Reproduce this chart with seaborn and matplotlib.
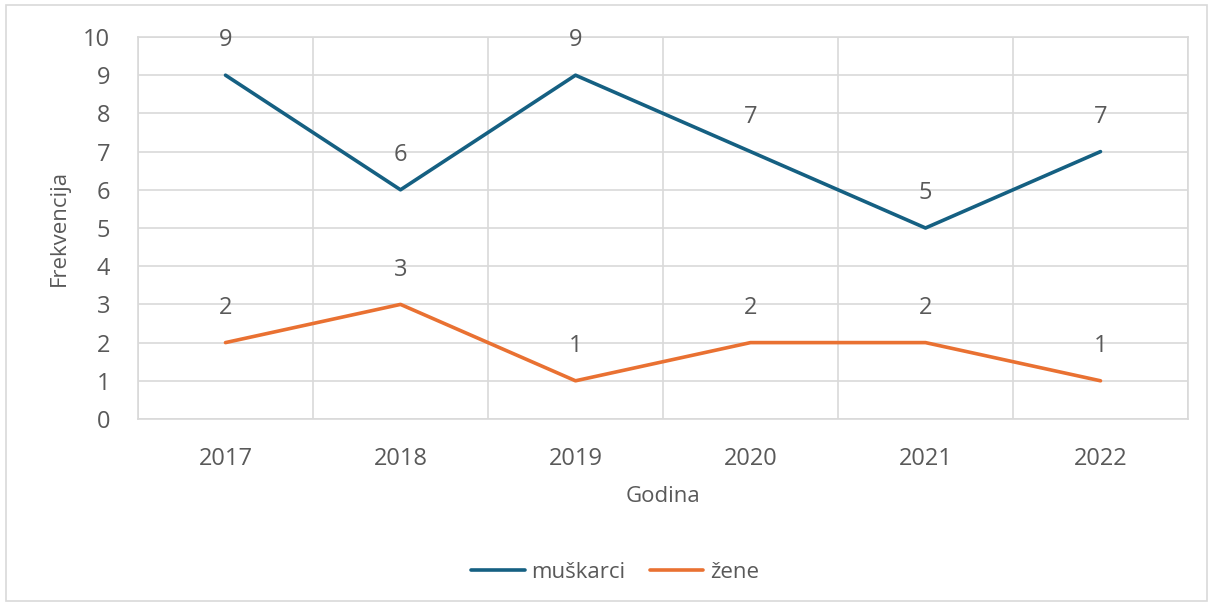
import numpy as np
import pandas as pd
import matplotlib.pyplot as plt
import seaborn as sns
from matplotlib.patches import Rectangle

sns.set_theme(style='white')
plt.rcParams['font.family'] = ['Open Sans', 'DejaVu Sans']

godine = ['2017', '2018', '2019', '2020', '2021', '2022']
muskarci = [9, 6, 9, 7, 5, 7]
zene = [2, 3, 1, 2, 2, 1]
serije = ['muškarci', 'žene']
boje = ['#156082', '#E97132']
siva = '#595959'

df = pd.DataFrame({
    'Godina': godine * 2,
    'Frekvencija': muskarci + zene,
    'spol': [serije[0]] * len(godine) + [serije[1]] * len(godine),
})
df['x'] = list(range(len(godine))) * 2

fig = plt.figure(figsize=(12.13, 6.05), dpi=100)
ax = fig.add_axes([138 / 1213, 1 - 419 / 605, (1188 - 138) / 1213, (419 - 37) / 605])

sns.lineplot(data=df, x='x', y='Frekvencija', hue='spol', palette=boje,
             linewidth=2.6, ax=ax, legend=True)

# oznake podataka iznad tocaka
for _, r in df.iterrows():
    ax.annotate(str(r['Frekvencija']), (r['x'], r['Frekvencija']),
                xytext=(0, 25), textcoords='offset points',
                ha='center', va='center', fontsize=17, color=siva)

ax.set_xlim(-0.5, len(godine) - 0.5)
ax.set_ylim(0, 10)
ax.set_yticks(range(0, 11))
ax.set_xticks(range(len(godine)))
ax.set_xticklabels(godine)
ax.set_xticks(np.arange(-0.5, len(godine), 1), minor=True)
ax.grid(axis='y', which='major', color='#d9d9d9', linewidth=1.2)
ax.grid(axis='x', which='minor', color='#d9d9d9', linewidth=1.2)
ax.tick_params(axis='both', which='both', length=0, labelsize=17, labelcolor=siva)
ax.tick_params(axis='x', pad=20)
ax.tick_params(axis='y', pad=20)
for s in ax.spines.values():
    s.set_color('#d9d9d9')
    s.set_linewidth(1.2)

ax.set_xlabel('Godina', fontsize=16, color=siva)
ax.set_ylabel('Frekvencija', fontsize=16, color=siva)
ax.xaxis.set_label_coords(0.5, (419 - 486) / 382)
ax.yaxis.set_label_coords((70 - 138) / 1050, 0.5)

h, l = ax.get_legend_handles_labels()
ax.legend(h, l, loc='center', bbox_to_anchor=(0.507, 1 - 572 / 605), bbox_transform=fig.transFigure,
          ncol=2, frameon=False, fontsize=16, labelcolor=siva, handlelength=2.4,
          handletextpad=0.3, columnspacing=1.1)

fig.patches.append(Rectangle((6 / 1213, 4 / 605), 1201 / 1213, 596 / 605,
                             transform=fig.transFigure, fill=False,
                             edgecolor='#d9d9d9', linewidth=1.2))

fig.savefig('out.png', dpi=100)
